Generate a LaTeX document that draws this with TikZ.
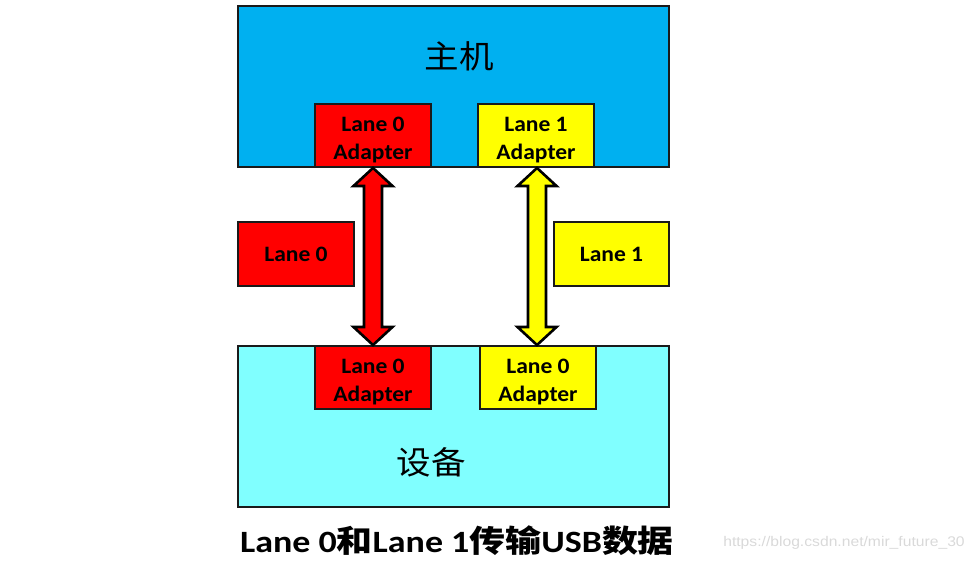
\documentclass[tikz,border=0pt]{standalone}
\usepackage{fontspec}
\setmainfont{Carlito}
\newfontfamily\cjk{Noto Sans CJK SC}
\newfontfamily\wmfont{Liberation Sans}
\usetikzlibrary{calc}
\definecolor{hostblue}{HTML}{00B0F0}
\definecolor{devcyan}{HTML}{80FFFF}
\definecolor{lanered}{HTML}{FF0000}
\definecolor{laneyellow}{HTML}{FFFF00}
\definecolor{edge}{HTML}{1A1A1A}
\newcommand{\wide}[2]{\scalebox{#1}[1]{#2}}
\newcommand{\twoline}[2]{\rule{0pt}{23.5pt}\wide{1.07}{#1}\\\wide{1.07}{#2}}
\begin{document}
\begin{tikzpicture}[x=1pt,y=-1pt,
  bigbox/.style={draw=edge,line width=2pt,inner sep=0pt,minimum width=431pt,minimum height=161pt},
  adbox/.style={draw=edge,line width=2pt,inner sep=0pt,minimum width=116pt,minimum height=63pt,
    align=center,font=\fontsize{22}{28}\selectfont\bfseries},
  arrowshape/.style={draw=black,line width=2.6pt,line join=miter}
]
\useasboundingbox (0,0) rectangle (975,561);
% big boxes
\node[bigbox,fill=hostblue] (host) at (453.5,86.5) {};
\node[bigbox,fill=devcyan] (dev) at (453.5,426.5) {};
\node[font=\cjk\fontsize{32}{34}\selectfont] (hostlbl) at (459,56) {\wide{1.08}{主机}};
\node[font=\cjk\fontsize{32}{34}\selectfont] (devlbl) at (431.5,462) {\wide{1.08}{设备}};
% adapters
\node[adbox,fill=lanered] (ha0) at (373,135.5) {\twoline{Lane 0}{Adapter}};
\node[adbox,fill=laneyellow] (ha1) at (536,135.5) {\twoline{Lane 1}{Adapter}};
\node[adbox,fill=lanered] (da0) at (373,377.5) {\twoline{Lane 0}{Adapter}};
\node[adbox,fill=laneyellow] (da1) at (538,377.5) {\twoline{Lane 0}{Adapter}};
% lane labels
\node[adbox,fill=lanered,minimum height=64pt] (l0) at (296,254) {\wide{1.07}{Lane 0}};
\node[adbox,fill=laneyellow,minimum width=115pt,minimum height=64pt] (l1) at (611.5,254) {\wide{1.07}{Lane 1}};
% red double arrow
\coordinate (rt) at (ha0.south);
\coordinate (rb) at (da0.north);
\draw[arrowshape,fill=lanered] (rt) -- ($(rt)+(19.5,18)$) -- ($(rt)+(9,18)$) -- ($(rb)+(9,-18)$)
  -- ($(rb)+(19.5,-18)$) -- (rb) -- ($(rb)+(-19.5,-18)$) -- ($(rb)+(-9,-18)$)
  -- ($(rt)+(-9,18)$) -- ($(rt)+(-19.5,18)$) -- cycle;
% yellow double arrow
\coordinate (ym) at ($(ha1.south)!0.5!(da1.north)$);
\coordinate (yt) at (ym |- ha1.south);
\coordinate (yb) at (ym |- da1.north);
\draw[arrowshape,fill=laneyellow] (yt) -- ($(yt)+(19.5,18)$) -- ($(yt)+(9,18)$) -- ($(yb)+(9,-18)$)
  -- ($(yb)+(19.5,-18)$) -- (yb) -- ($(yb)+(-19.5,-18)$) -- ($(yb)+(-9,-18)$)
  -- ($(yt)+(-9,18)$) -- ($(yt)+(-19.5,18)$) -- cycle;
% caption
\node[font=\fontsize{31}{34}\selectfont\bfseries] (cap) at (457,541)
  {\wide{1.16}{Lane 0{\cjk 和}Lane 1{\cjk 传输}USB{\cjk 数据}}};
\node[font=\wmfont\fontsize{14}{16}\selectfont,text=black!15] (wm) at (844,543)
  {\wide{1.12}{https://blog.csdn.net/mir\_future\_30}};
\end{tikzpicture}
\end{document}
